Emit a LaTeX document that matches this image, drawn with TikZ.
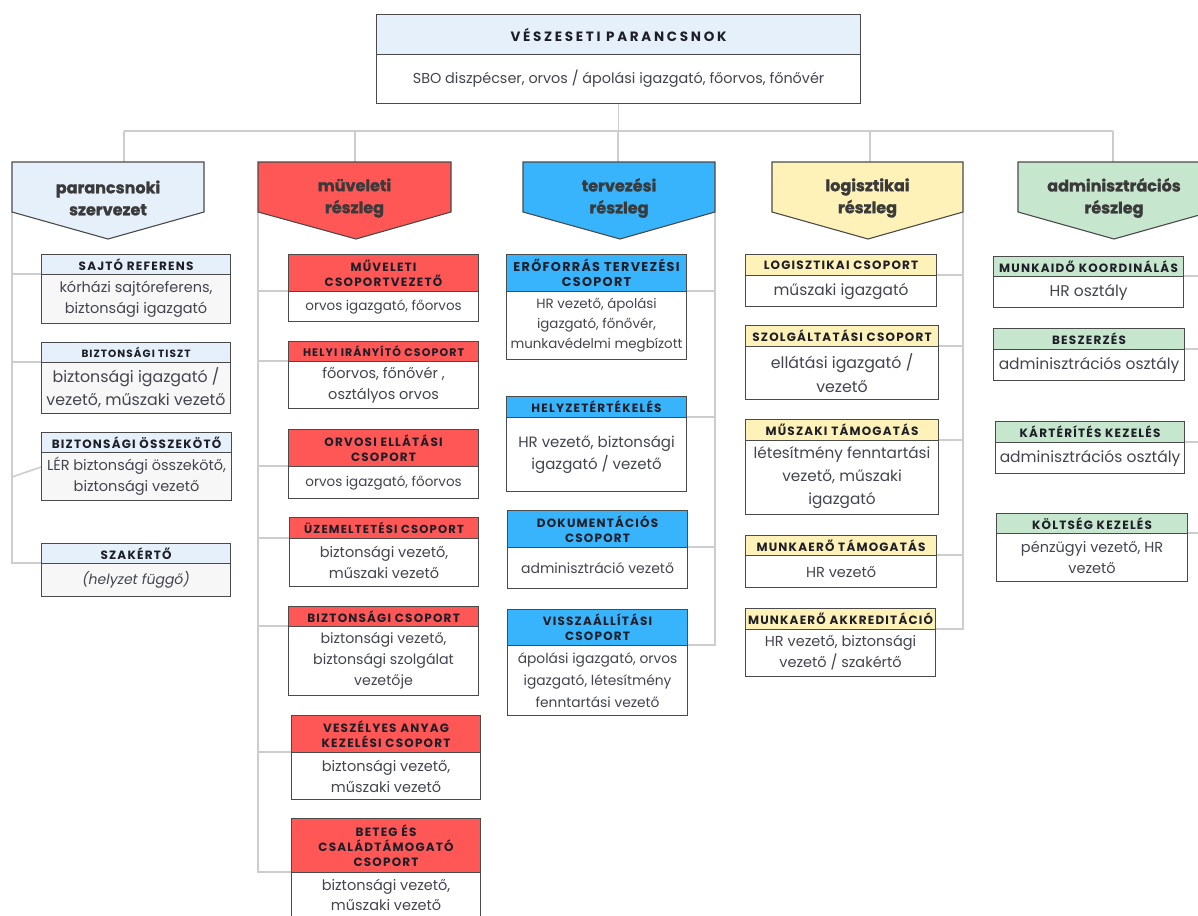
\documentclass[tikz,border=0pt]{standalone}
\usepackage{fontspec}
\setmainfont{Poppins}
\newfontfamily\titlef{Poppins}[LetterSpace=10]
\newfontfamily\bigtf{Poppins}[LetterSpace=20]
\newfontfamily\heavyf{Poppins}[BoldFeatures={FakeBold=1.2}]
\usetikzlibrary{backgrounds}
\definecolor{cA}{HTML}{E5F0FB}
\definecolor{cB}{HTML}{FF5656}
\definecolor{cC}{HTML}{38B4FC}
\definecolor{cD}{HTML}{FEF2B8}
\definecolor{cE}{HTML}{C6E6CD}
\definecolor{grayb}{HTML}{F7F7F7}
\definecolor{bordercol}{HTML}{4A4A4A}
\definecolor{conncol}{HTML}{CDCDCD}
\definecolor{titlecol}{HTML}{1E1E28}
\definecolor{bodycol}{HTML}{444450}
\definecolor{penttext}{HTML}{3A3A3A}
\newcommand\bs[2]{\fontsize{#1}{#2}\selectfont}
\newcommand\tfs[2]{\titlef\bfseries\fontsize{#1}{#2}\selectfont}
\tikzset{
  conn/.style={draw=conncol, line width=1.6pt},
  hdbase/.style={anchor=north west, draw=bordercol, line width=1.1pt, inner sep=1pt, align=center, text=titlecol, font=\tfs{12}{15}},
  bdbase/.style={anchor=north west, draw=bordercol, line width=1.1pt, inner sep=1pt, align=center, text=bodycol, font=\bs{14.5}{21}},
  hdA/.style={hdbase, fill=cA}, bdA/.style={bdbase, fill=grayb},
  hdB/.style={hdbase, fill=cB}, bdB/.style={bdbase, fill=white},
  hdC/.style={hdbase, fill=cC}, bdC/.style={bdbase, fill=white},
  hdD/.style={hdbase, fill=cD}, bdD/.style={bdbase, fill=white},
  hdE/.style={hdbase, fill=cE}, bdE/.style={bdbase, fill=white},
  pentshape/.style={draw=bordercol, line width=1.1pt},
  ptext/.style={align=center, text=penttext, inner sep=0pt, font=\heavyf\bfseries\fontsize{16}{22}\selectfont},
  % per-box font sizes (t = title, b = body)
  A2t/.style={font=\tfs{10.5}{12}}, A2b/.style={font=\bs{15.8}{23}},
  A4b/.style={font=\itshape\bs{14}{20}},
  B1b/.style={font=\bs{13.5}{20}},
  B2t/.style={font=\tfs{11}{13}},
  B3b/.style={font=\bs{13.5}{20}},
  B4t/.style={font=\tfs{11.6}{13}},
  B5b/.style={font=\bs{14.2}{21}},
  B7b/.style={font=\bs{14.5}{20}},
  C1t/.style={font=\tfs{12.8}{15}}, C1b/.style={font=\bs{13.4}{20}},
  C2b/.style={font=\bs{15}{22}},
  C3b/.style={font=\bs{14}{20}},
  C4b/.style={font=\bs{13.8}{22}},
  D1b/.style={font=\bs{15.4}{20}},
  D2b/.style={font=\bs{15.8}{24}},
  D3b/.style={font=\bs{15.3}{23}},
  E1b/.style={font=\bs{15.5}{21}},
  E2b/.style={font=\bs{15.5}{21}},
  E3b/.style={font=\bs{15.5}{21}},
}
% #1 name, #2 x1, #3 x2, #4 ytop, #5 ydiv, #6 ybot, #7 column, #8 title, #9 body
\newcommand\tb[9]{%
  \node[hd#7, #1t/.try, minimum width={(#3-#2)*1pt}, minimum height={(#5-#4)*1pt}] (#1h) at (#2,#4) {#8};
  \node[bd#7, #1b/.try, minimum width={(#3-#2)*1pt}, minimum height={(#6-#5)*1pt}] (#1) at (#2,#5) {#9};
}
% #1 name, #2 x1, #3 x2, #4 tip x, #5 fill, #6 text
\newcommand\pent[6]{%
  \coordinate (#1nw) at (#2,162);
  \coordinate (#1ne) at (#3,162);
  \coordinate (#1se) at (#3,212);
  \coordinate (#1tip) at (#4,239);
  \coordinate (#1sw) at (#2,212);
  \draw[pentshape, fill=#5] (#1nw) -- (#1ne) -- (#1se) -- (#1tip) -- (#1sw) -- cycle;
  \node[ptext] (#1) at ({(#2+#3)/2},198) {#6};
}
\begin{document}
\begin{tikzpicture}[x=1pt,y=-1pt]
\clip (0,0) rectangle (1198,915);

% top box
\node[hdbase, fill=cA, font=\bigtf\bfseries\fontsize{13.5}{15}\selectfont, minimum width=484pt, minimum height=40pt] (toph) at (376,14) {VÉSZESETI PARANCSNOK};
\node[bdbase, fill=white, font=\bs{14.4}{20}, minimum width=484pt, minimum height=49pt] (top) at (376,54) {SBO diszpécser, orvos / ápolási igazgató, főorvos, főnővér};

% division headers
\pent{A}{12}{204}{108}{cA}{parancsnoki\\szervezet}
\pent{B}{258}{451}{356}{cB}{müveleti\\részleg}
\pent{C}{523}{715}{620}{cC}{tervezési\\részleg}
\pent{D}{772}{963}{868}{cD}{logisztikai\\részleg}
\pent{E}{1018}{1210}{1114}{cE}{adminisztrációs\\részleg}

\coordinate (Atop) at (124,162);
\coordinate (Btop) at (355,162);
\coordinate (Ctop) at (618,162);
\coordinate (Dtop) at (870,162);
\coordinate (Etop) at (1113,162);
\coordinate (busL) at (124,131);
\coordinate (busR) at (1113,131);

% column A
\tb{A1}{41}{230}{254}{274}{323}{A}{SAJTÓ REFERENS}{kórházi sajtóreferens,\\biztonsági igazgató}
\tb{A2}{41}{230}{342}{362}{413}{A}{BIZTONSÁGI TISZT}{biztonsági igazgató /\\vezető, műszaki vezető}
\tb{A3}{41}{231}{432}{452}{500}{A}{BIZTONSÁGI ÖSSZEKÖTŐ}{LÉR biztonsági összekötő,\\biztonsági vezető}
\tb{A4}{41}{230}{543}{563}{596}{A}{SZAKÉRTŐ}{(helyzet függő)}

% column B
\tb{B1}{288}{478}{254}{291}{321}{B}{MŰVELETI\\CSOPORTVEZETŐ}{orvos igazgató, főorvos}
\tb{B2}{288}{478}{341}{361}{408}{B}{HELYI IRÁNYÍTÓ CSOPORT}{főorvos, főnővér ,\\osztályos orvos}
\tb{B3}{288}{478}{429}{466}{498}{B}{ORVOSI ELLÁTÁSI\\CSOPORT}{orvos igazgató, főorvos}
\tb{B4}{289}{478}{517}{538}{586}{B}{ÜZEMELTETÉSI CSOPORT}{biztonsági vezető,\\műszaki vezető}
\tb{B5}{288}{478}{606}{626}{695}{B}{BIZTONSÁGI CSOPORT}{biztonsági vezető,\\biztonsági szolgálat\\vezetője}
\tb{B6}{291}{480}{715}{752}{799}{B}{VESZÉLYES ANYAG\\KEZELÉSI CSOPORT}{biztonsági vezető,\\műszaki vezető}
\tb{B7}{291}{480}{818}{872}{917}{B}{BETEG ÉS\\CSALÁDTÁMOGATÓ\\CSOPORT}{biztonsági vezető,\\műszaki vezető}

% column C
\tb{C1}{506}{686}{254}{291}{359}{C}{ERŐFORRÁS TERVEZÉSI\\CSOPORT}{HR vezető, ápolási\\igazgató, főnővér,\\munkavédelmi megbízott}
\tb{C2}{506}{686}{396}{417}{491}{C}{HELYZETÉRTÉKELÉS}{HR vezető, biztonsági\\igazgató / vezető}
\tb{C3}{507}{687}{510}{547}{588}{C}{DOKUMENTÁCIÓS\\CSOPORT}{adminisztráció vezető}
\tb{C4}{507}{687}{609}{645}{715}{C}{VISSZAÁLLÍTÁSI\\CSOPORT}{ápolási igazgató, orvos\\igazgató, létesítmény\\fenntartási vezető}

% column D
\tb{D1}{745}{936}{254}{275}{306}{D}{LOGISZTIKAI CSOPORT}{műszaki igazgató}
\tb{D2}{745}{938}{325}{346}{399}{D}{SZOLGÁLTATÁSI CSOPORT}{ellátási igazgató /\\vezető}
\tb{D3}{745}{938}{419}{440}{514}{D}{MŰSZAKI TÁMOGATÁS}{létesítmény fenntartási\\vezető, műszaki\\igazgató}
\tb{D4}{745}{936}{535}{555}{587}{D}{MUNKAERŐ TÁMOGATÁS}{HR vezető}
\tb{D5}{745}{935}{608}{629}{676}{D}{MUNKAERŐ AKKREDITÁCIÓ}{HR vezető, biztonsági\\vezető / szakértő}

% column E
\tb{E1}{993}{1183}{256}{276}{307}{E}{MUNKAIDŐ KOORDINÁLÁS}{HR osztály}
\tb{E2}{993}{1184}{328}{349}{380}{E}{BESZERZÉS}{adminisztrációs osztály}
\tb{E3}{995}{1184}{421}{442}{473}{E}{KÁRTÉRÍTÉS KEZELÉS}{adminisztrációs osztály}
\tb{E4}{996}{1187}{513}{533}{581}{E}{KÖLTSÉG KEZELÉS}{pénzügyi vezető, HR\\vezető}

\coordinate (A3j) at (12,477);

\begin{scope}[on background layer]
  \fill[white] (0,0) rectangle (1198,915);
  \draw[conn] (top.south) -- (top.south |- busL);
  \draw[conn] (busL) -- (busR);
  \foreach \c in {A,B,C,D,E} { \draw[conn] (\c top |- busL) -- (\c top); }
  % column A
  \draw[conn] (Asw) |- (A4.north west);
  \draw[conn] (Asw |- A1.north west) -- (A1.north west);
  \draw[conn] (Asw |- A2.north west) -- (A2.north west);
  \draw[conn] (A3j) -- ([yshift=-15pt]A3.north west);
  % column B
  \draw[conn] (Bsw) |- (B7.north west);
  \foreach \k in {1,...,6} { \draw[conn] (Bsw |- B\k.north west) -- (B\k.north west); }
  % column C
  \draw[conn] (Cse) |- (C4.north east);
  \foreach \k in {1,2,3} { \draw[conn] (Cse |- C\k.north east) -- (C\k.north east); }
  % column D
  \draw[conn] (Dse) |- (D5.north east);
  \foreach \k in {1,...,4} { \draw[conn] (Dse |- D\k.north east) -- (D\k.north east); }
  % column E
  \draw[conn] (Ese) |- (E4.north east);
  \foreach \k in {1,2,3} { \draw[conn] (Ese |- E\k.north east) -- (E\k.north east); }
\end{scope}
\end{tikzpicture}
\end{document}
